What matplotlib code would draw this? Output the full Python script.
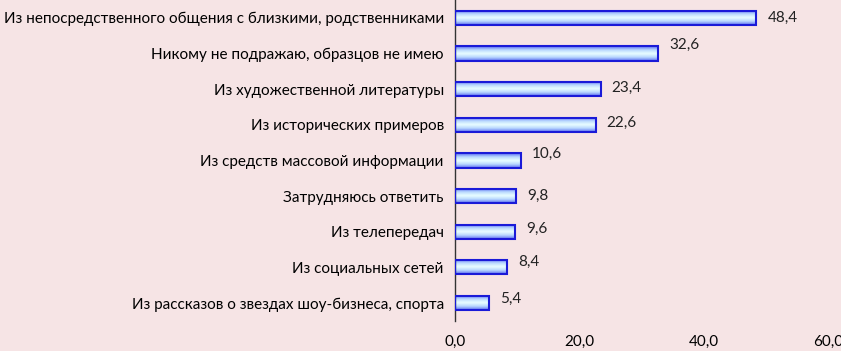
import numpy as np
import matplotlib.pyplot as plt
from matplotlib.colors import LinearSegmentedColormap
from matplotlib.ticker import FuncFormatter

categories = [
    'Из непосредственного общения с близкими, родственниками',
    'Никому не подражаю, образцов не имею',
    'Из художественной литературы',
    'Из исторических примеров',
    'Из средств массовой информации',
    'Затрудняюсь ответить',
    'Из телепередач',
    'Из социальных сетей',
    'Из рассказов о звездах шоу-бизнеса, спорта',
]
values = [48.4, 32.6, 23.4, 22.6, 10.6, 9.8, 9.6, 8.4, 5.4]
# label vertical offsets (points), as in the picture
label_dy = [0, 6, 1, 1, 5, 0, 2, 4, 3]

plt.rcParams['font.family'] = ['Lato', 'DejaVu Sans']
bg = '#f6e4e5'

fig = plt.figure(figsize=(8.41, 3.51), dpi=100, facecolor=bg)
ax = fig.add_axes([0.541, 0.086, 0.444, 0.914])
ax.set_facecolor(bg)

cmap = LinearSegmentedColormap.from_list('bar', ['#5a6cf0', '#b8d8ff', '#eaffff', '#b8d8ff', '#5a6cf0'])
grad = np.linspace(0, 1, 64).reshape(-1, 1)

y = np.arange(len(values))
h = 0.4
bars = ax.barh(y, values, height=h, facecolor='none', edgecolor='#1a1ad8', linewidth=1.5, zorder=3)
for b in bars:
    x0, y0 = b.get_x(), b.get_y()
    ax.imshow(grad, cmap=cmap, aspect='auto', extent=[x0, x0 + b.get_width(), y0, y0 + b.get_height()],
              zorder=2, interpolation='bicubic')

for yi, v, dy in zip(y, values, label_dy):
    ax.annotate(f'{v:.1f}'.replace('.', ','), (v, yi), xytext=(8, dy), textcoords='offset points',
                va='center', ha='left', fontsize=11, color='#222222')

ax.set_xlim(0, 60)
ax.set_ylim(len(values) - 0.5, -0.5)
ax.set_xticks([0, 20, 40, 60])
ax.xaxis.set_major_formatter(FuncFormatter(lambda v, p: f'{v:.1f}'.replace('.', ',')))
ax.set_yticks(y)
ax.set_yticklabels(categories, fontsize=11)
ax.tick_params(axis='x', length=0, pad=10, labelsize=11)
ax.tick_params(axis='y', length=0, pad=8)
for s in ['top', 'right', 'bottom']:
    ax.spines[s].set_visible(False)
ax.spines['left'].set_color('#333333')
ax.spines['left'].set_linewidth(1.0)

fig.savefig('out.png', dpi=100, facecolor=bg)
